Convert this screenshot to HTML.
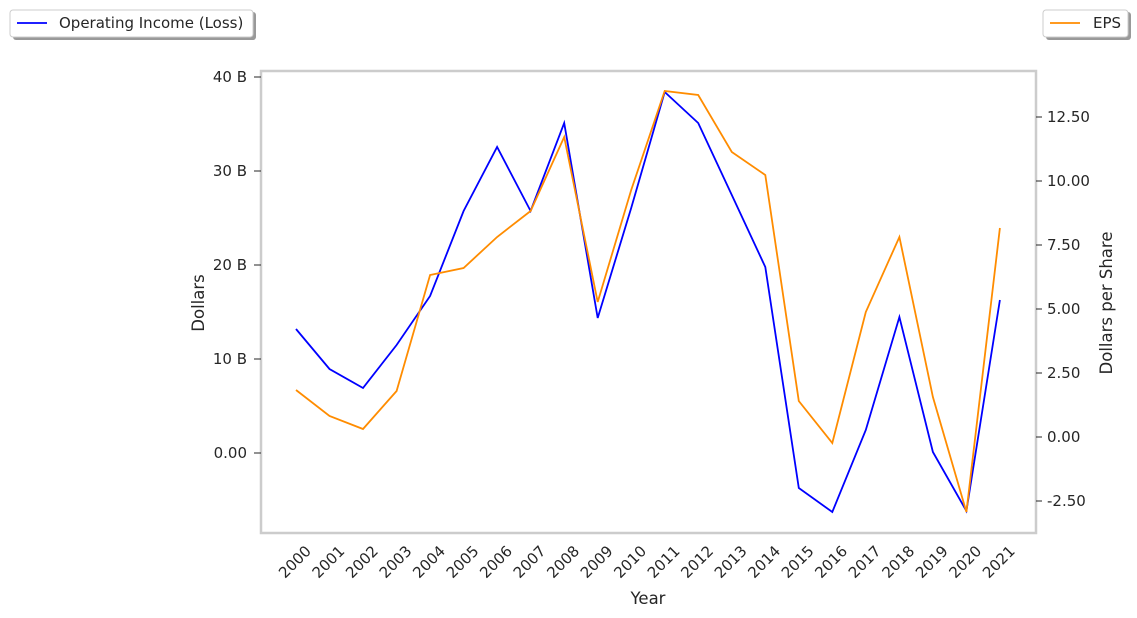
<!DOCTYPE html>
<html><head><meta charset="utf-8"><style>
body{margin:0;background:#fff;}
svg{display:block;font-family:"DejaVu Sans","Liberation Sans",sans-serif;}
</style></head><body>
<svg width="1137" height="618" viewBox="0 0 1137 618">
<rect x="0" y="0" width="1137" height="618" fill="#fff"/>
<rect x="261" y="71" width="775" height="462" fill="none" stroke="#cccccc" stroke-width="2.5"/>
<g font-size="15" fill="#262626">
<g text-anchor="end">
<text x="247" y="82">40 B</text><text x="247" y="176">30 B</text><text x="247" y="270">20 B</text><text x="247" y="364">10 B</text><text x="247" y="458">0.00</text>
</g>
<g stroke="#262626"><line x1="254" y1="77" x2="261" y2="77"/><line x1="254" y1="171" x2="261" y2="171"/><line x1="254" y1="265" x2="261" y2="265"/><line x1="254" y1="359" x2="261" y2="359"/><line x1="254" y1="453" x2="261" y2="453"/>
<line x1="1036" y1="117" x2="1042" y2="117"/><line x1="1036" y1="181" x2="1042" y2="181"/><line x1="1036" y1="245" x2="1042" y2="245"/><line x1="1036" y1="309" x2="1042" y2="309"/><line x1="1036" y1="373" x2="1042" y2="373"/><line x1="1036" y1="437" x2="1042" y2="437"/><line x1="1036" y1="501" x2="1042" y2="501"/></g>
<g text-anchor="start">
<text x="1047" y="122">12.50</text><text x="1047" y="186">10.00</text><text x="1047" y="250">7.50</text><text x="1047" y="314">5.00</text><text x="1047" y="378">2.50</text><text x="1047" y="442">0.00</text><text x="1047" y="506">-2.50</text>
</g>
<text x="0" y="0" transform="translate(204,303) rotate(-90)" text-anchor="middle" font-size="16.5">Dollars</text>
<text x="0" y="0" transform="translate(1112,303) rotate(-90)" text-anchor="middle" font-size="16.5">Dollars per Share</text>
<text x="648" y="604" text-anchor="middle" font-size="16.5">Year</text>
<g text-anchor="end" font-size="15">
<text transform="translate(312,552) rotate(-45)">2000</text>
<text transform="translate(345.5,552) rotate(-45)">2001</text>
<text transform="translate(379,552) rotate(-45)">2002</text>
<text transform="translate(412.6,552) rotate(-45)">2003</text>
<text transform="translate(446.1,552) rotate(-45)">2004</text>
<text transform="translate(479.6,552) rotate(-45)">2005</text>
<text transform="translate(513.1,552) rotate(-45)">2006</text>
<text transform="translate(546.6,552) rotate(-45)">2007</text>
<text transform="translate(580.2,552) rotate(-45)">2008</text>
<text transform="translate(613.7,552) rotate(-45)">2009</text>
<text transform="translate(647.2,552) rotate(-45)">2010</text>
<text transform="translate(680.7,552) rotate(-45)">2011</text>
<text transform="translate(714.2,552) rotate(-45)">2012</text>
<text transform="translate(747.8,552) rotate(-45)">2013</text>
<text transform="translate(781.3,552) rotate(-45)">2014</text>
<text transform="translate(814.8,552) rotate(-45)">2015</text>
<text transform="translate(848.3,552) rotate(-45)">2016</text>
<text transform="translate(881.8,552) rotate(-45)">2017</text>
<text transform="translate(915.4,552) rotate(-45)">2018</text>
<text transform="translate(948.9,552) rotate(-45)">2019</text>
<text transform="translate(982.4,552) rotate(-45)">2020</text>
<text transform="translate(1015.9,552) rotate(-45)">2021</text>
</g>
</g>
<polyline fill="none" stroke="#0000ff" stroke-width="1.8" points="296,329 329.5,369 363,388 396.6,345 430.1,296 463.6,211 497.1,147 530.6,211 564.2,123 597.7,318 631.2,208 664.7,92 698.2,123 731.8,195 765.3,267 798.8,488 832.3,512 865.8,430 899.4,317 932.9,452 966.4,511 999.9,300"/>
<polyline fill="none" stroke="#ff8c00" stroke-width="1.8" points="296,390 329.5,416 363,429 396.6,391 430.1,275 463.6,268 497.1,237 530.6,211 564.2,137 597.7,302 631.2,190 664.7,91 698.2,95 731.8,152 765.3,175 798.8,401 832.3,443 865.8,312 899.4,237 932.9,397 966.4,512 999.9,228"/>
<rect x="13" y="12" width="243" height="28" rx="3" fill="#999"/>
<rect x="10" y="10" width="243" height="27" rx="3" fill="#fff" stroke="#ccc"/>
<line x1="17" y1="23" x2="47" y2="23" stroke="#0000ff" stroke-width="1.8"/>
<text x="59" y="28" font-size="15" fill="#262626">Operating Income (Loss)</text>
<rect x="1046" y="12" width="85" height="28" rx="3" fill="#999"/>
<rect x="1043" y="10" width="85" height="27" rx="3" fill="#fff" stroke="#ccc"/>
<line x1="1050" y1="23" x2="1080" y2="23" stroke="#ff8c00" stroke-width="1.8"/>
<text x="1093" y="28" font-size="15" fill="#262626">EPS</text>
</svg>
</body></html>
